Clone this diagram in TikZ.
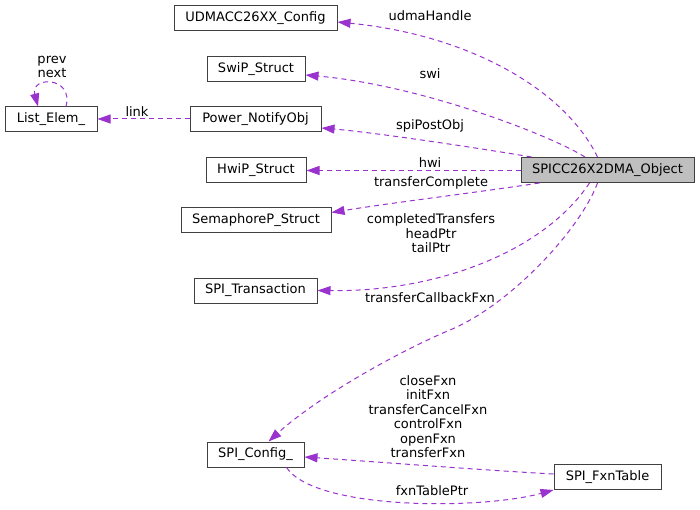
\documentclass[tikz,border=0pt]{standalone}
\usepackage{fontspec}
\setmainfont{DejaVu Sans}
\usetikzlibrary{arrows.meta}
\definecolor{edgec}{RGB}{154,50,205}
\definecolor{boxc}{RGB}{64,64,64}
\definecolor{fillc}{RGB}{191,191,191}
\begin{document}
\begin{tikzpicture}[x=1pt,y=-1pt,
  font=\fontsize{13}{14.5}\selectfont,
  box/.style={draw=boxc, line width=1pt, minimum height=25pt, inner sep=0pt, fill=white},
  rel/.style={draw=edgec, line width=1pt, dash pattern=on 5pt off 4pt,
    -{Triangle[length=13pt,width=9pt,fill=edgec]}},
  lbl/.style={inner sep=0pt, align=center}]
\useasboundingbox (0,0) rectangle (700,510);
% nodes
\node[box, minimum width=163pt] (udma) at (255.5,18.5) {UDMACC26XX\_Config};
\node[box, minimum width=98pt] (swip) at (256,69.5) {SwiP\_Struct};
\node[box, minimum width=92pt] (list) at (51,119.5) {List\_Elem\_};
\node[box, minimum width=131pt] (power) at (255.5,119.5) {Power\_NotifyObj};
\node[box, minimum width=100pt] (hwip) at (256,170) {HwiP\_Struct};
\node[box, minimum width=173pt, fill=fillc] (spicc) at (607.5,170) {SPICC26X2DMA\_Object};
\node[box, minimum width=150pt] (sema) at (256,220.5) {SemaphoreP\_Struct};
\node[box, minimum width=123pt] (trans) at (255.5,290.5) {SPI\_Transaction};
\node[box, minimum width=97pt] (config) at (255.5,454.5) {SPI\_Config\_};
\node[box, minimum width=107pt] (fxn) at (607.5,477) {SPI\_FxnTable};
% edges
\draw[rel] ([xshift=-10pt]spicc.north) .. controls (565,90) and (470,35) .. ([yshift=-3.5pt]udma.east);
\draw[rel] ([xshift=-22.5pt]spicc.north) .. controls (550,135) and (420,85) .. ([yshift=-5.5pt]swip.east);
\draw[rel] ([xshift=11pt]spicc.north west) .. controls (490,150) and (380,133) .. ([yshift=-8.5pt]power.east);
\draw[rel] ([yshift=-0.5pt]spicc.west) -- ([yshift=-0.5pt]hwip.east);
\draw[rel] ([xshift=19pt]spicc.south west) .. controls (480,192) and (390,203) .. ([yshift=8pt]sema.east);
\draw[rel] ([xshift=-18pt]spicc.south) .. controls (545,250) and (440,292) .. (trans.east);
\draw[rel] ([xshift=-10pt]spicc.south) .. controls (580,230) and (510,305) .. (450,330)
  .. controls (402,350) and (320,395) .. ([xshift=13pt]config.north);
\draw[rel] ([yshift=3pt]fxn.west) .. controls (480,470) and (380,462) .. ([yshift=-2.5pt]config.east);
\draw[rel] ([xshift=31pt]config.south) .. controls (315,510) and (480,510) .. (fxn.south west);
\draw[rel] ([yshift=0.5pt]power.west) -- ([yshift=0.5pt]list.east);
\draw[rel] ([xshift=15pt]list.north) .. controls (74,76) and (30,76) .. ([xshift=-13pt]list.north);
% labels
\node[lbl] (l1) at (430,16) {udmaHandle};
\node[lbl] (l2) at (430,74) {swi};
\node[lbl] (l3) at (430,126) {spiPostObj};
\node[lbl] (l4) at (430,162.5) {hwi};
\node[lbl] (l5) at (431,183) {transferComplete};
\node[lbl] (l6) at (431,233.5) {completedTransfers\\headPtr\\tailPtr};
\node[lbl] (l7) at (430,298) {transferCallbackFxn};
\node[lbl] (l8) at (428,416.5) {closeFxn\\initFxn\\transferCancelFxn\\controlFxn\\openFxn\\transferFxn};
\node[lbl] (l9) at (432,491) {fxnTablePtr};
\node[lbl] (l10) at (137,112) {link};
\node[lbl] (l11) at (52,67) {prev\\next};
\end{tikzpicture}
\end{document}
